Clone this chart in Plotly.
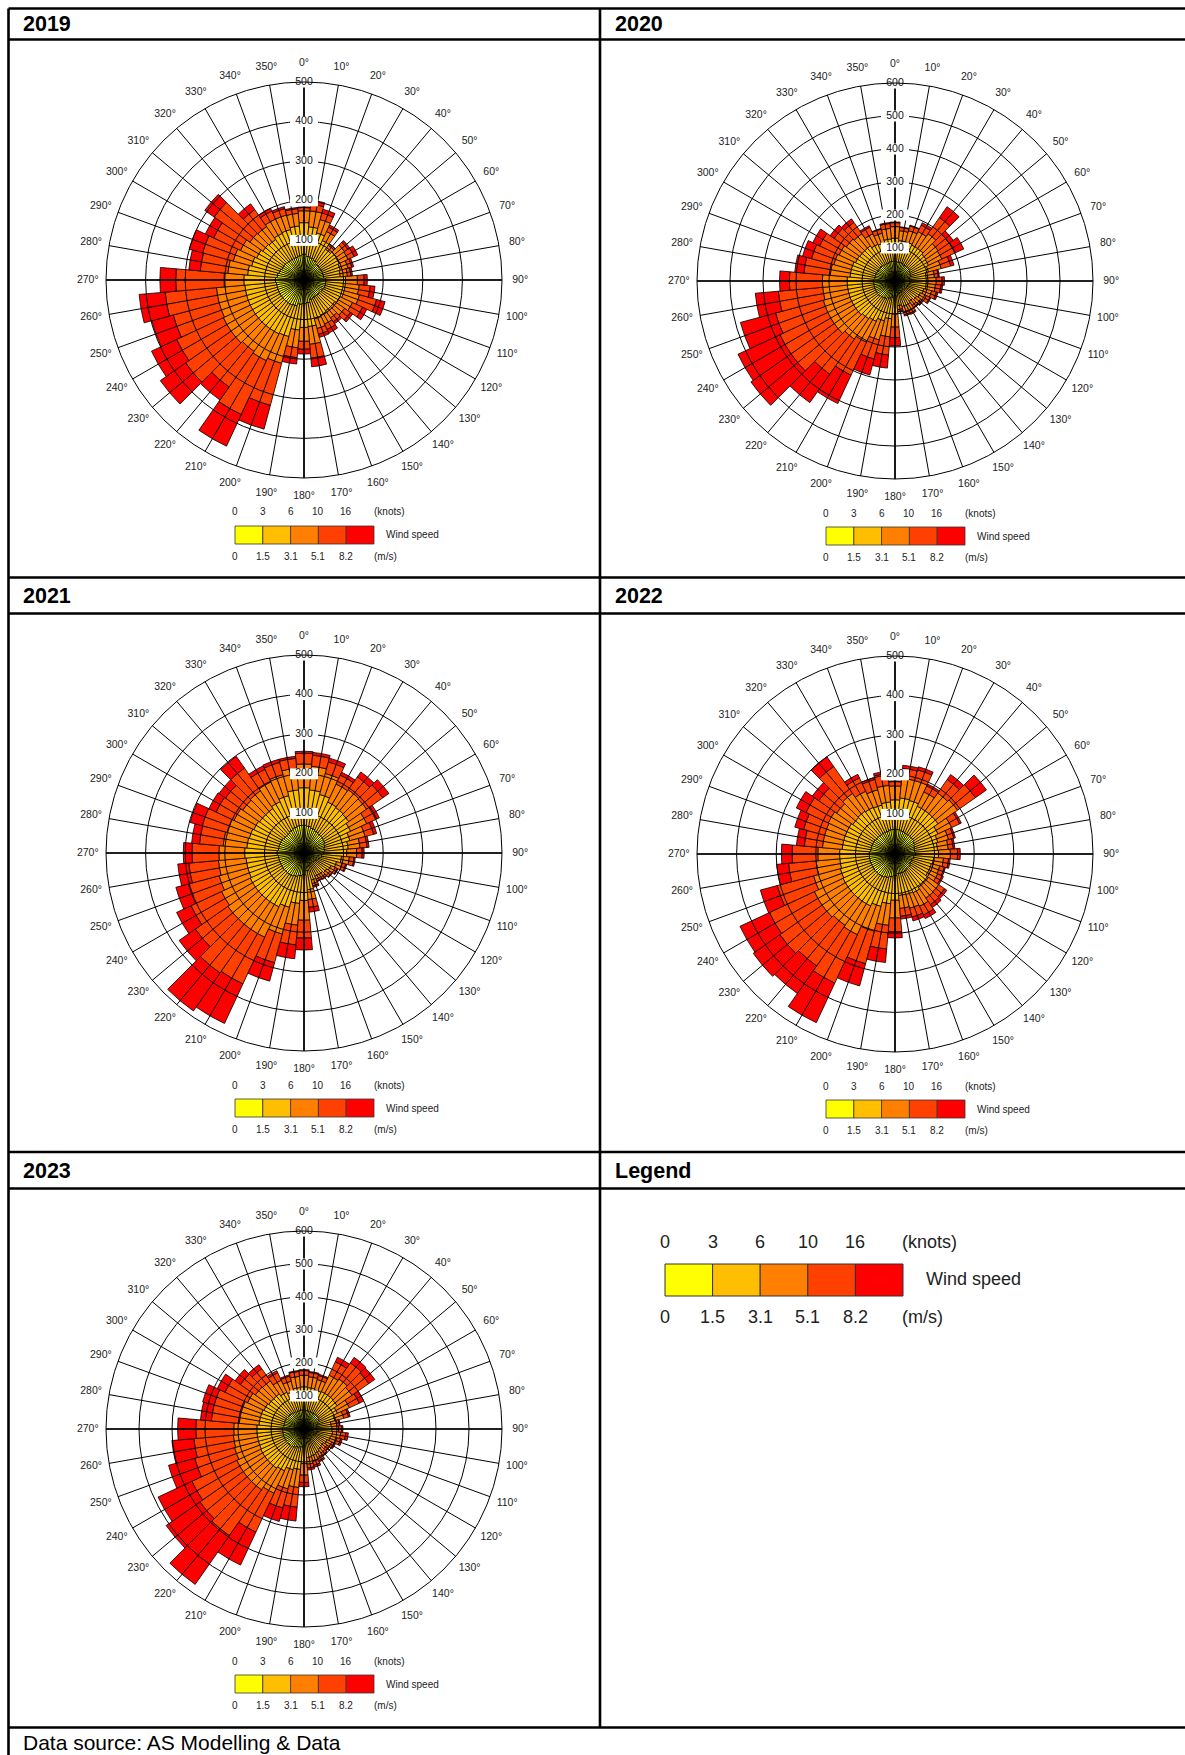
import plotly.graph_objects as go

W, H = 1185, 1755

# ---------------- data ----------------
YEARS = ["2019", "2020", "2021", "2022", "2023"]
DIRECTIONS = [0, 10, 20, 30, 40, 50, 60, 70, 80, 90, 100, 110, 120, 130, 140, 150, 160, 170,
              180, 190, 200, 210, 220, 230, 240, 250, 260, 270, 280, 290, 300, 310, 320, 330, 340, 350]
SPEED_CLASSES = ["0-1.5 m/s", "1.5-3.1 m/s", "3.1-5.1 m/s", "5.1-8.2 m/s", ">8.2 m/s"]
KNOT_EDGES = ["0", "3", "6", "10", "16"]
MS_EDGES = ["0", "1.5", "3.1", "5.1", "8.2"]
RADIAL_MAX = [500, 600, 500, 500, 600]
RADIAL_TICKS_500 = [100, 200, 300, 400, 500]
RADIAL_TICKS_600 = [100, 200, 300, 400, 500, 600]

# counts per direction for each speed class (innermost first)
S1_2019 = [65, 60, 58, 55, 50, 50, 50, 50, 50, 55, 55, 55, 52, 50, 50, 50, 52, 58, 60, 62, 68, 70, 70, 70, 70, 70, 70, 72, 68, 65, 62, 62, 60, 60, 60, 62]
S2_2019 = [80, 75, 65, 55, 45, 50, 48, 45, 42, 50, 50, 50, 48, 45, 45, 48, 50, 60, 60, 65, 80, 80, 80, 80, 80, 80, 80, 80, 75, 72, 70, 65, 65, 70, 72, 75]
S3_2019 = [30, 40, 35, 25, 12, 25, 25, 20, 18, 30, 35, 40, 35, 30, 22, 25, 25, 45, 35, 45, 70, 75, 70, 75, 75, 72, 72, 50, 50, 48, 45, 40, 40, 40, 38, 32]
S4_2019 = [8, 17, 17, 12, 4, 10, 17, 10, 9, 17, 28, 45, 28, 18, 12, 15, 15, 35, 20, 25, 110, 150, 110, 140, 130, 120, 130, 122, 70, 80, 75, 110, 52, 22, 17, 12]
S5_2019 = [2, 10, 10, 6, 1, 6, 10, 5, 4, 8, 12, 22, 12, 7, 6, 10, 8, 22, 12, 16, 62, 88, 40, 78, 70, 56, 66, 40, 29, 35, 23, 29, 18, 8, 5, 3]

S1_2020 = [60, 58, 58, 55, 55, 55, 52, 50, 45, 45, 45, 42, 40, 38, 35, 38, 38, 35, 45, 50, 55, 60, 62, 65, 65, 65, 65, 65, 62, 62, 60, 60, 60, 58, 58, 60]
S2_2020 = [70, 65, 65, 65, 65, 60, 60, 55, 50, 50, 50, 48, 45, 42, 40, 42, 42, 40, 55, 65, 70, 75, 78, 80, 80, 80, 80, 80, 75, 75, 72, 70, 70, 65, 62, 68]
S3_2020 = [35, 30, 35, 45, 55, 45, 45, 40, 25, 30, 28, 25, 20, 15, 15, 18, 17, 12, 40, 55, 60, 70, 75, 80, 80, 80, 75, 75, 60, 55, 55, 50, 45, 35, 30, 32]
S4_2020 = [12, 10, 15, 22, 60, 40, 45, 30, 12, 18, 17, 15, 12, 8, 8, 10, 9, 6, 32, 55, 60, 110, 130, 160, 160, 150, 135, 100, 80, 70, 65, 45, 42, 22, 13, 15]
S5_2020 = [2, 2, 2, 8, 40, 15, 28, 10, 3, 7, 5, 5, 3, 2, 2, 4, 4, 2, 25, 40, 50, 95, 105, 148, 140, 110, 70, 30, 28, 28, 23, 15, 13, 5, 2, 3]

S1_2021 = [70, 68, 65, 62, 60, 60, 58, 55, 52, 50, 45, 40, 35, 32, 30, 30, 35, 45, 55, 58, 62, 65, 65, 65, 65, 65, 65, 68, 65, 65, 65, 62, 62, 65, 68, 70]
S2_2021 = [95, 92, 88, 80, 80, 78, 72, 65, 60, 58, 50, 45, 40, 38, 36, 35, 36, 48, 65, 70, 80, 85, 85, 85, 85, 82, 82, 82, 80, 78, 75, 75, 75, 78, 82, 90]
S3_2021 = [60, 60, 55, 50, 55, 55, 45, 40, 30, 25, 20, 15, 12, 10, 9, 8, 9, 25, 50, 55, 70, 85, 85, 85, 80, 75, 70, 65, 60, 58, 55, 52, 55, 55, 55, 55]
S4_2021 = [27, 28, 30, 25, 40, 50, 28, 22, 18, 14, 12, 9, 6, 6, 5, 5, 6, 20, 45, 50, 75, 130, 135, 100, 85, 80, 75, 68, 60, 65, 50, 53, 70, 35, 32, 25]
S5_2021 = [5, 7, 10, 8, 15, 19, 7, 8, 5, 5, 3, 3, 2, 2, 2, 2, 4, 12, 30, 35, 48, 110, 117, 50, 40, 33, 28, 22, 20, 32, 20, 20, 36, 10, 8, 5]

S1_2022 = [62, 62, 60, 58, 58, 58, 55, 52, 50, 52, 48, 45, 45, 48, 48, 50, 50, 50, 55, 58, 62, 65, 65, 65, 65, 65, 65, 65, 62, 62, 62, 60, 60, 60, 60, 62]
S2_2022 = [75, 80, 80, 75, 75, 75, 65, 60, 58, 58, 50, 50, 50, 55, 55, 58, 56, 55, 62, 68, 75, 80, 80, 80, 80, 78, 75, 75, 72, 72, 72, 70, 72, 70, 68, 70]
S3_2022 = [35, 50, 52, 40, 55, 60, 38, 28, 27, 30, 25, 22, 24, 32, 33, 38, 36, 33, 45, 55, 65, 80, 75, 80, 80, 70, 60, 55, 50, 50, 52, 50, 55, 45, 40, 42]
S4_2022 = [11, 25, 28, 17, 42, 55, 22, 14, 13, 18, 13, 12, 12, 18, 20, 24, 23, 20, 35, 60, 85, 135, 125, 130, 125, 95, 70, 65, 46, 55, 62, 55, 83, 37, 27, 30]
S5_2022 = [2, 8, 8, 5, 15, 34, 5, 4, 4, 7, 4, 3, 4, 7, 9, 10, 10, 7, 15, 34, 58, 110, 85, 82, 82, 44, 30, 27, 20, 23, 27, 20, 30, 10, 5, 6]

S1_2023 = [58, 56, 55, 55, 55, 55, 52, 45, 38, 40, 40, 38, 35, 32, 35, 38, 40, 42, 50, 55, 58, 62, 65, 65, 65, 65, 65, 65, 62, 62, 62, 60, 60, 58, 56, 58]
S2_2023 = [70, 70, 68, 70, 70, 68, 60, 52, 45, 45, 47, 45, 42, 40, 40, 42, 44, 45, 55, 68, 70, 78, 80, 80, 80, 78, 78, 78, 75, 75, 72, 70, 70, 65, 62, 68]
S3_2023 = [35, 33, 32, 55, 60, 55, 40, 28, 17, 20, 25, 20, 16, 13, 14, 16, 18, 20, 35, 55, 60, 75, 80, 80, 80, 75, 72, 70, 60, 60, 55, 50, 48, 40, 32, 34]
S4_2023 = [14, 13, 13, 45, 60, 62, 33, 15, 8, 10, 15, 12, 9, 7, 8, 10, 12, 12, 22, 60, 60, 130, 170, 160, 150, 125, 120, 115, 85, 85, 75, 55, 45, 25, 16, 15]
S5_2023 = [3, 3, 4, 15, 20, 22, 15, 5, 2, 3, 8, 5, 3, 3, 3, 4, 6, 6, 13, 42, 42, 110, 180, 125, 113, 82, 67, 55, 33, 36, 26, 20, 15, 7, 4, 3]

YEAR_CLASSES = [
    [S1_2019, S2_2019, S3_2019, S4_2019, S5_2019],
    [S1_2020, S2_2020, S3_2020, S4_2020, S5_2020],
    [S1_2021, S2_2021, S3_2021, S4_2021, S5_2021],
    [S1_2022, S2_2022, S3_2022, S4_2022, S5_2022],
    [S1_2023, S2_2023, S3_2023, S4_2023, S5_2023],
]
YEAR_TICKS = [RADIAL_TICKS_500, RADIAL_TICKS_600, RADIAL_TICKS_500, RADIAL_TICKS_500, RADIAL_TICKS_600]

# ---------------- styles / layout ----------------
COLORS = ["#FFFF00", "#FFBF00", "#FF8000", "#FF4000", "#FF0000"]
FONT = "Liberation Sans, Arial, sans-serif"
TXT = "#222222"
R = 198
LABEL_OFFSET = 1.092   # angular labels sit just outside the outer ring
LABEL_SPAN = 1.15      # label subplot is this much larger than the rose
CENTERS = [(304, 280), (895, 281), (304, 853), (895, 854), (304, 1429)]


def px(x):
    return x / W


def py(y):
    return 1 - y / H


def pid(n):
    return "polar" if n == 1 else f"polar{n}"


fig = go.Figure()
layout = {}
shapes = []
annotations = []

for i in range(5):
    cx, cy = CENTERS[i]
    rmax = RADIAL_MAX[i]
    ticks = YEAR_TICKS[i]
    dom = dict(x=[px(cx - R), px(cx + R)], y=[py(cy + R), py(cy - R)])
    RL = R * LABEL_SPAN
    dom_lab = dict(x=[px(cx - RL), px(cx + RL)], y=[py(cy + RL), py(cy - RL)])
    base, over, lab = pid(3 * i + 1), pid(3 * i + 2), pid(3 * i + 3)

    for k, vals in enumerate(YEAR_CLASSES[i]):
        fig.add_trace(go.Barpolar(
            r=vals, theta=DIRECTIONS, name=SPEED_CLASSES[k], subplot=base,
            marker=dict(color=COLORS[k], line=dict(color="black", width=0.8)),
            showlegend=False, hoverinfo="skip"))

    # main compass lines
    fig.add_trace(go.Scatterpolar(
        r=[rmax, rmax, None, rmax, rmax], theta=[0, 180, None, 90, 270],
        mode="lines", line=dict(color="black", width=1.6), subplot=over,
        showlegend=False, hoverinfo="skip", cliponaxis=False))
    # radial labels with white background
    fig.add_trace(go.Scatterpolar(
        r=ticks, theta=[0] * len(ticks), mode="markers+text",
        text=[str(t) for t in ticks], textposition="middle center",
        textfont=dict(family=FONT, size=10.5, color="#111111"),
        marker=dict(symbol="line-ew", size=20, color="white",
                    line=dict(color="white", width=11)),
        subplot=over, showlegend=False, hoverinfo="skip", cliponaxis=False))
    # direction labels centred just outside the outer ring
    fig.add_trace(go.Scatterpolar(
        r=[rmax * LABEL_OFFSET] * len(DIRECTIONS), theta=DIRECTIONS, mode="text",
        text=[f"{d}°" for d in DIRECTIONS], textposition="middle center",
        textfont=dict(family=FONT, size=10.5, color=TXT),
        subplot=lab, showlegend=False, hoverinfo="skip", cliponaxis=False))

    layout[base] = dict(
        domain=dom, bgcolor="white", barmode="stack", bargap=0, hole=0,
        angularaxis=dict(rotation=90, direction="clockwise", showgrid=False,
                         showticklabels=False, showline=False, ticks=""),
        radialaxis=dict(range=[0, rmax], showgrid=False, showticklabels=False,
                        showline=False, ticks=""))
    layout[over] = dict(
        domain=dom, bgcolor="rgba(0,0,0,0)",
        angularaxis=dict(rotation=90, direction="clockwise", tickmode="array",
                         tickvals=DIRECTIONS, showticklabels=False,
                         showgrid=True, gridcolor="black", gridwidth=0.9,
                         showline=True, linecolor="black", linewidth=1, ticks=""),
        radialaxis=dict(range=[0, rmax], tickmode="array", tickvals=ticks,
                        showgrid=True, gridcolor="black", gridwidth=0.9,
                        showticklabels=False, showline=False, ticks=""))
    layout[lab] = dict(
        domain=dom_lab, bgcolor="rgba(0,0,0,0)",
        angularaxis=dict(rotation=90, direction="clockwise", showgrid=False,
                         showticklabels=False, showline=False, ticks=""),
        radialaxis=dict(range=[0, rmax * LABEL_SPAN], showgrid=False,
                        showticklabels=False, showline=False, ticks=""))

    # mini legend under each rose
    bw = 27.8
    x0 = cx - 69
    for k in range(5):
        shapes.append(dict(type="rect", xref="paper", yref="paper",
                           x0=px(x0 + k * bw), x1=px(x0 + (k + 1) * bw),
                           y0=py(cy + 264), y1=py(cy + 246),
                           fillcolor=COLORS[k], line=dict(color="#333333", width=0.8)))
        annotations.append(dict(x=px(x0 + k * bw), y=py(cy + 232), text=KNOT_EDGES[k],
                                showarrow=False, xanchor="center", yanchor="middle",
                                font=dict(family=FONT, size=10, color=TXT)))
        annotations.append(dict(x=px(x0 + k * bw), y=py(cy + 276), text=MS_EDGES[k],
                                showarrow=False, xanchor="center", yanchor="middle",
                                font=dict(family=FONT, size=10, color=TXT)))
    annotations.append(dict(x=px(x0 + 5 * bw - 2), y=py(cy + 232), text="(knots)",
                            showarrow=False, xanchor="left", yanchor="middle",
                            font=dict(family=FONT, size=10, color=TXT)))
    annotations.append(dict(x=px(x0 + 5 * bw - 2), y=py(cy + 276), text="(m/s)",
                            showarrow=False, xanchor="left", yanchor="middle",
                            font=dict(family=FONT, size=10, color=TXT)))
    annotations.append(dict(x=px(cx + 80), y=py(cy + 255), text="Wind speed",
                            showarrow=False, xanchor="left", yanchor="middle",
                            font=dict(family=FONT, size=10, color=TXT)))

# ---------------- big legend panel ----------------
LBW = 47.6
LX0 = 665
for k in range(5):
    shapes.append(dict(type="rect", xref="paper", yref="paper",
                       x0=px(LX0 + k * LBW), x1=px(LX0 + (k + 1) * LBW),
                       y0=py(1296), y1=py(1264),
                       fillcolor=COLORS[k], line=dict(color="#333333", width=1)))
    annotations.append(dict(x=px(LX0 + k * LBW), y=py(1242), text=KNOT_EDGES[k],
                            showarrow=False, xanchor="center", yanchor="middle",
                            font=dict(family=FONT, size=18, color=TXT)))
    annotations.append(dict(x=px(LX0 + k * LBW), y=py(1317), text=MS_EDGES[k],
                            showarrow=False, xanchor="center", yanchor="middle",
                            font=dict(family=FONT, size=18, color=TXT)))
annotations.append(dict(x=px(LX0 + 5 * LBW - 3), y=py(1242), text="(knots)",
                        showarrow=False, xanchor="left", yanchor="middle",
                        font=dict(family=FONT, size=18, color=TXT)))
annotations.append(dict(x=px(LX0 + 5 * LBW - 3), y=py(1317), text="(m/s)",
                        showarrow=False, xanchor="left", yanchor="middle",
                        font=dict(family=FONT, size=18, color=TXT)))
annotations.append(dict(x=px(924), y=py(1279), text="Wind speed",
                        showarrow=False, xanchor="left", yanchor="middle",
                        font=dict(family=FONT, size=18, color=TXT)))

# ---------------- table frame ----------------
LW = 2.6
for y in [8.5, 39.5, 577.5, 613.5, 1152, 1188.5, 1727.5]:
    shapes.append(dict(type="line", xref="paper", yref="paper",
                       x0=px(8.5), x1=px(W + 2), y0=py(y), y1=py(y),
                       line=dict(color="black", width=LW)))
shapes.append(dict(type="line", xref="paper", yref="paper", x0=px(8.5), x1=px(8.5),
                   y0=py(8.5), y1=py(H + 2), line=dict(color="black", width=LW)))
shapes.append(dict(type="line", xref="paper", yref="paper", x0=px(600), x1=px(600),
                   y0=py(8.5), y1=py(1727.5), line=dict(color="black", width=LW)))

HEADERS = [("2019", 21, 24), ("2020", 613, 24), ("2021", 21, 596),
           ("2022", 613, 596), ("2023", 21, 1170.5), ("Legend", 613, 1170.5)]
for text, x, y in HEADERS:
    annotations.append(dict(x=px(x), y=py(y), text=f"<b>{text}</b>", showarrow=False,
                            xanchor="left", yanchor="middle",
                            font=dict(family=FONT, size=21.5, color="black")))
annotations.append(dict(x=px(21), y=py(1742), text="Data source: AS Modelling & Data",
                        showarrow=False, xanchor="left", yanchor="middle",
                        font=dict(family=FONT, size=21, color="black")))

fig.update_layout(
    width=W, height=H, margin=dict(l=0, r=0, t=0, b=0, pad=0),
    paper_bgcolor="white", plot_bgcolor="white", showlegend=False,
    shapes=shapes, annotations=annotations, **layout)

fig.write_html("out.html", config={"displayModeBar": False},
               post_script="document.body.style.margin='0px';")
